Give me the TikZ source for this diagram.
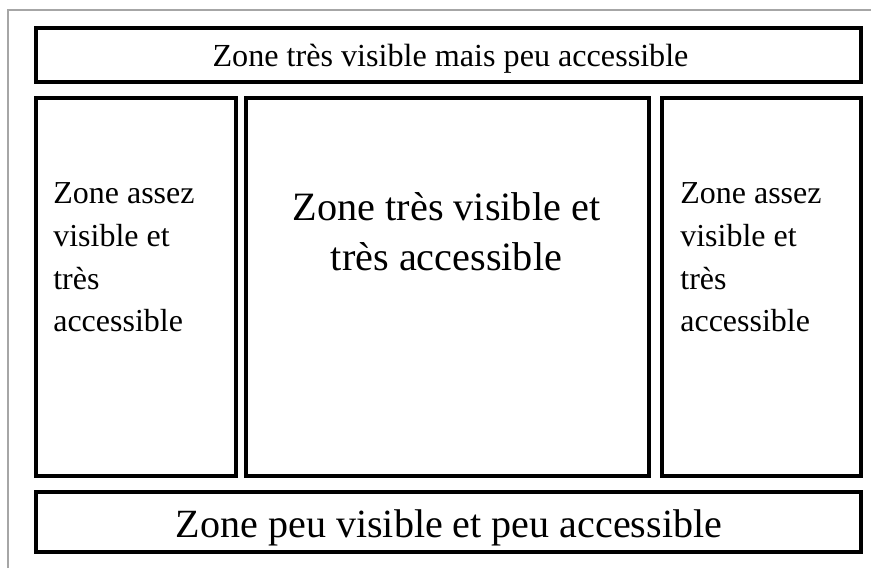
\documentclass[tikz,border=0pt]{standalone}
\usepackage{fontspec}
\setmainfont{Liberation Serif}
\tikzset{
  zone/.style={draw,line width=0.08cm},
  petit/.style={font=\fontsize{18.2}{24.4}\selectfont,align=left,inner sep=0pt,anchor=north west},
}
\begin{document}
\begin{tikzpicture}[x=0.02cm,y=-0.02cm]
		\useasboundingbox (0,0) rectangle (871,568);
		\draw[gray!70,line width=0.04cm] (8,568) -- (8,10) -- (871,10);
		
		% les cinq zones
		\draw[zone] (36,28) rectangle (861,82);
		\draw[zone] (36,98) rectangle (236,476);
		\draw[zone] (246,98) rectangle (649,476);
		\draw[zone] (662,98) rectangle (861,476);
		\draw[zone] (36,492) rectangle (861,552);
		
		\node[font=\fontsize{18.3}{23}\selectfont,anchor=base,inner sep=0pt] (haut) at (450.5,66) {Zone très visible mais peu accessible};
		\node[petit] (gauche) at (53,182) {Zone assez\\visible et\\très\\accessible};
		\node[font=\fontsize{22.9}{28.4}\selectfont,align=center,inner sep=0pt,anchor=north] (centre) at (446.5,192) {Zone très visible et\\très accessible};
		\node[petit] (droite) at (680,182) {Zone assez\\visible et\\très\\accessible};
		\node[font=\fontsize{22.8}{27}\selectfont,anchor=base,inner sep=0pt] (bas) at (449,537) {Zone peu visible et peu accessible};
	\end{tikzpicture}
\end{document}
